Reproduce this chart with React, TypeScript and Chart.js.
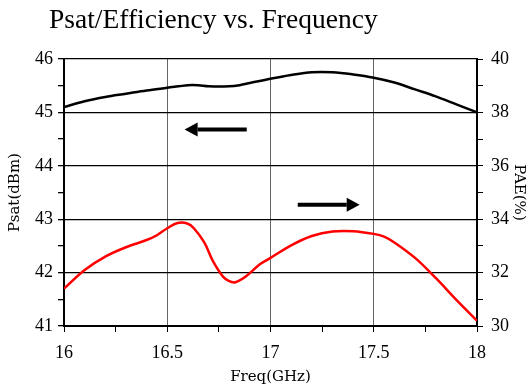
import React, { useEffect, useRef } from 'react';
import { Chart, registerables } from 'chart.js';

Chart.register(...registerables);

const chartTitle = 'Psat/Efficiency vs. Frequency';
const xTitle = 'Freq(GHz)';
const leftTitle = 'Psat(dBm)';
const rightTitle = 'PAE(%)';

const psatFreq = [16.0, 16.1, 16.2, 16.3, 16.4, 16.5, 16.6, 16.65, 16.7, 16.8, 16.85, 16.9, 17.0, 17.1, 17.2, 17.3, 17.4, 17.5, 17.6, 17.7, 17.8, 17.9, 18.0];
const psatValues = [45.10, 45.21, 45.29, 45.35, 45.41, 45.46, 45.51, 45.51, 45.49, 45.49, 45.51, 45.55, 45.63, 45.70, 45.75, 45.75, 45.71, 45.65, 45.56, 45.43, 45.30, 45.15, 45.00];

const paeFreq = [16.0, 16.1, 16.2, 16.3, 16.4, 16.45, 16.5, 16.55, 16.6, 16.63, 16.68, 16.72, 16.77, 16.8, 16.83, 16.88, 16.95, 17.0, 17.1, 17.2, 17.3, 17.4, 17.5, 17.55, 17.6, 17.7, 17.8, 17.9, 18.0];
const paeValues = [31.40, 32.10, 32.60, 32.95, 33.22, 33.40, 33.66, 33.86, 33.83, 33.65, 33.12, 32.45, 31.85, 31.68, 31.64, 31.85, 32.32, 32.55, 33.02, 33.37, 33.54, 33.55, 33.45, 33.35, 33.13, 32.55, 31.80, 30.98, 30.20];

// arrow annotations in data coordinates (x in GHz, y on the Psat axis)
const arrowFrom = [[16.885, 44.68], [17.132, 43.27]];
const arrowTo = [[16.584, 44.68], [17.432, 43.27]];

const serif = "'Liberation Serif', 'DejaVu Serif', serif";
const wideSerif = "'DejaVu Serif', serif";

const isMult = (v: number, m: number) => Math.abs(v / m - Math.round(v / m)) < 1e-6;

export default function App() {
  const ref = useRef<HTMLCanvasElement | null>(null);

  useEffect(() => {
    document.body.style.margin = '0';
    const canvas = ref.current;
    if (!canvas) return;

    const titlePlugin = {
      id: 'fixedTitle',
      afterDraw(chart: any) {
        const ctx = chart.ctx;
        ctx.save();
        ctx.fillStyle = '#000';
        ctx.font = `27.5px ${serif}`;
        ctx.textAlign = 'left';
        ctx.textBaseline = 'alphabetic';
        ctx.fillText(chartTitle, 49, 28);
        ctx.restore();
      },
    };

    const arrowPlugin = {
      id: 'arrows',
      afterDatasetsDraw(chart: any) {
        const ctx = chart.ctx;
        const xs = chart.scales.x;
        const ys = chart.scales.y;
        ctx.save();
        ctx.strokeStyle = '#000';
        ctx.fillStyle = '#000';
        for (let i = 0; i < arrowFrom.length; i++) {
          const x1 = xs.getPixelForValue(arrowFrom[i][0]);
          const y1 = ys.getPixelForValue(arrowFrom[i][1]);
          const x2 = xs.getPixelForValue(arrowTo[i][0]);
          const y2 = ys.getPixelForValue(arrowTo[i][1]);
          const dir = Math.sign(x2 - x1);
          const headLen = 13;
          ctx.lineWidth = 4;
          ctx.beginPath();
          ctx.moveTo(x1, y1);
          ctx.lineTo(x2 - dir * headLen, y2);
          ctx.stroke();
          ctx.beginPath();
          ctx.moveTo(x2, y2);
          ctx.lineTo(x2 - dir * headLen, y2 - 7);
          ctx.lineTo(x2 - dir * headLen, y2 + 7);
          ctx.closePath();
          ctx.fill();
        }
        ctx.restore();
      },
    };

    const chart = new Chart(canvas, {
      type: 'line',
      data: {
        datasets: [
          {
            label: 'Psat',
            data: psatFreq.map((f, i) => ({ x: f, y: psatValues[i] })),
            borderColor: '#000',
            borderWidth: 2.5,
            pointRadius: 0,
            tension: 0.35,
            yAxisID: 'y',
          },
          {
            label: 'PAE',
            data: paeFreq.map((f, i) => ({ x: f, y: paeValues[i] })),
            borderColor: '#ff0000',
            borderWidth: 2.5,
            pointRadius: 0,
            tension: 0.35,
            yAxisID: 'y1',
          },
        ],
      },
      options: {
        animation: false,
        responsive: false,
        maintainAspectRatio: false,
        layout: { padding: { top: 59, left: 0, right: 0, bottom: 0 } },
        plugins: {
          legend: { display: false },
          title: { display: false },
          tooltip: { enabled: false },
        },
        scales: {
          x: {
            type: 'linear',
            min: 16,
            max: 18,
            afterFit: (s: any) => { s.height = 61; },
            afterBuildTicks: (s: any) => {
              const t = [];
              for (let v = 16; v <= 18.0001; v += 0.25) t.push({ value: Math.round(v * 100) / 100 });
              s.ticks = t;
            },
            ticks: {
              autoSkip: false,
              maxRotation: 0,
              color: '#000',
              font: { family: serif, size: 18 },
              padding: 10,
              callback: (v: any) => (isMult(Number(v), 0.5) ? String(v) : ''),
            },
            grid: {
              tickLength: 6,
              tickColor: '#000',
              tickWidth: 1,
              lineWidth: 1,
              color: (c: any) => {
                const v = c.tick ? c.tick.value : 0;
                if (Math.abs(v - 16) < 1e-6 || Math.abs(v - 18) < 1e-6) return '#000';
                return isMult(v, 0.5) ? '#666' : 'rgba(0,0,0,0)';
              },
            },
            border: { color: '#000', width: 2 },
            title: {
              display: true,
              text: xTitle,
              color: '#000',
              font: { family: wideSerif, size: 15 },
              padding: { top: 0, bottom: 1 },
            },
          },
          y: {
            type: 'linear',
            position: 'left',
            min: 41,
            max: 46,
            afterFit: (s: any) => { s.width = 64; },
            afterBuildTicks: (s: any) => {
              const t = [];
              for (let v = 41; v <= 46.0001; v += 0.5) t.push({ value: v });
              s.ticks = t;
            },
            ticks: {
              autoSkip: false,
              color: '#000',
              font: { family: serif, size: 18 },
              padding: 5,
              callback: (v: any) => (isMult(Number(v), 1) ? String(v) : ''),
            },
            grid: {
              tickLength: 6,
              tickColor: '#000',
              lineWidth: 1.3,
              color: (c: any) => {
                const v = c.tick ? c.tick.value : 0;
                return isMult(v, 1) ? '#000' : 'rgba(0,0,0,0)';
              },
            },
            border: { color: '#000', width: 2 },
            title: {
              display: true,
              text: leftTitle,
              color: '#000',
              font: { family: wideSerif, size: 15 },
              padding: { top: 6, bottom: 0 },
            },
          },
          y1: {
            type: 'linear',
            position: 'right',
            min: 30,
            max: 40,
            afterFit: (s: any) => { s.width = 52; },
            afterBuildTicks: (s: any) => {
              const t = [];
              for (let v = 30; v <= 40.0001; v += 1) t.push({ value: v });
              s.ticks = t;
            },
            ticks: {
              autoSkip: false,
              color: '#000',
              font: { family: serif, size: 18 },
              padding: 8,
              callback: (v: any) => (isMult(Number(v), 2) ? String(v) : ''),
            },
            grid: {
              drawOnChartArea: false,
              tickLength: 6,
              tickColor: '#000',
              lineWidth: 1,
            },
            border: { color: '#000', width: 2 },
            title: {
              display: true,
              text: rightTitle,
              color: '#000',
              font: { family: wideSerif, size: 15 },
              padding: { top: 1, bottom: 0 },
            },
          },
        },
      },
      plugins: [titlePlugin, arrowPlugin],
    } as any);

    return () => chart.destroy();
  }, []);

  return (
    <div style={{ width: 529, height: 387 }}>
      <canvas ref={ref} width={529} height={387} style={{ display: 'block', width: 529, height: 387 }} />
    </div>
  );
}
